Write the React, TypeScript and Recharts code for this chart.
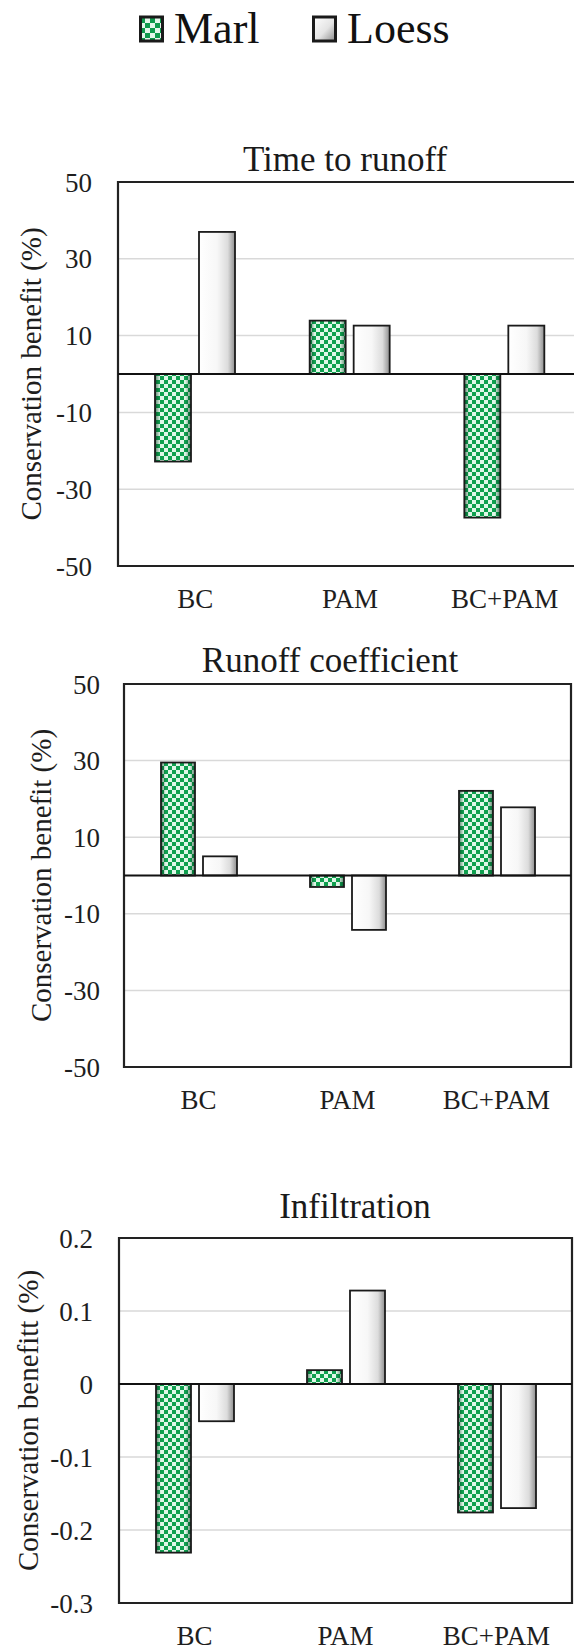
import React from 'react';
import {
  BarChart,
  Bar,
  XAxis,
  YAxis,
  CartesianGrid,
  ReferenceLine,
  ReferenceArea,
  Legend,
} from 'recharts';

const FONT = "'Liberation Serif', 'Times New Roman', Times, serif";
const TEXT_COLOR = '#1e1e1e';

// ---------- data ----------
const categories = ['BC', 'PAM', 'BC+PAM'];
const seriesNames = ['Marl', 'Loess'];

const timeToRunoffMarl = [-22.8, 13.9, -37.4];
const timeToRunoffLoess = [37.0, 12.6, 12.6];

const runoffCoefficientMarl = [29.5, -3.0, 22.1];
const runoffCoefficientLoess = [5.0, -14.2, 17.8];

const infiltrationMarl = [-0.231, 0.019, -0.176];
const infiltrationLoess = [-0.051, 0.128, -0.17];

const percentDomain = [-50, 50];
const percentTicks = [-50, -30, -10, 10, 30, 50];
const infiltrationDomain = [-0.3, 0.2];
const infiltrationTicks = [-0.3, -0.2, -0.1, 0, 0.1, 0.2];

const panelTitles = ['Time to runoff', 'Runoff coefficient', 'Infiltration'];
const yAxisTitles = [
  'Conservation benefit (%)',
  'Conservation benefit (%)',
  'Conservation benefitt (%)',
];

const buildRows = (marl: number[], loess: number[]) =>
  categories.map((category, i) => ({
    category,
    [seriesNames[0]]: marl[i],
    [seriesNames[1]]: loess[i],
  }));

const rowsTime = buildRows(timeToRunoffMarl, timeToRunoffLoess);
const rowsRunoff = buildRows(runoffCoefficientMarl, runoffCoefficientLoess);
const rowsInfil = buildRows(infiltrationMarl, infiltrationLoess);

// ---------- bar shapes ----------
const norm = (props: any) => {
  let { x, y, width, height } = props;
  if (height < 0) {
    y = y + height;
    height = -height;
  }
  if (width < 0) {
    x = x + width;
    width = -width;
  }
  return { x, y, width, height };
};

const makeMarlShape = (id: string) => (props: any) => {
  const { x, y, width, height } = norm(props);
  if (!height) return <g />;
  return (
    <g>
      <rect x={x} y={y} width={width} height={height} fill={`url(#checker-${id})`} />
      <rect x={x} y={y} width={width} height={height} fill={`url(#marlEdge-${id})`} />
      <rect x={x} y={y} width={width} height={height} fill="none" stroke="#1a1a1a" strokeWidth={1.8} />
    </g>
  );
};

const makeLoessShape = (id: string) => (props: any) => {
  const { x, y, width, height } = norm(props);
  if (!height) return <g />;
  return (
    <g>
      <rect x={x} y={y} width={width} height={height} fill={`url(#loessFill-${id})`} />
      <rect x={x} y={y} width={width} height={height} fill="none" stroke="#1a1a1a" strokeWidth={1.8} />
    </g>
  );
};

// ---------- legend ----------
const legendXs = [139, 312];
const renderLegend = (props: any) => {
  const payload: any[] = props.payload || [];
  const items = seriesNames.map((name) => payload.find((e) => e.value === name) || { value: name });
  return (
    <svg width={574} height={60} style={{ display: 'block' }}>
      <defs>
        <pattern id="legend-checker" patternUnits="userSpaceOnUse" width={10} height={10} x={140} y={18}>
          <rect width={10} height={10} fill="#e4f6ea" />
          <rect width={5} height={5} fill="#0e9a4c" />
          <rect x={5} y={5} width={5} height={5} fill="#0e9a4c" />
        </pattern>
        <linearGradient id="legend-loess" x1="0" y1="0" x2="1" y2="1">
          <stop offset="0" stopColor="#ffffff" />
          <stop offset="0.55" stopColor="#e4e4e4" />
          <stop offset="1" stopColor="#8a8a8a" />
        </linearGradient>
      </defs>
      {items.map((entry, i) => (
        <g key={entry.value}>
          <rect
            x={legendXs[i] + 1.5}
            y={17}
            width={22}
            height={24}
            fill={i === 0 ? 'url(#legend-checker)' : 'url(#legend-loess)'}
            stroke="#1a1a1a"
            strokeWidth={3}
          />
          <text
            x={legendXs[i] + 35}
            y={43}
            fontSize={44}
            fontFamily={FONT}
            style={{ fontFamily: FONT }}
            fill="#111"
          >
            {entry.value}
          </text>
        </g>
      ))}
    </svg>
  );
};

// ---------- panel ----------
type PanelProps = {
  id: string;
  rows: any[];
  domain: number[];
  ticks: number[];
  yTitle: string;
  yTitleX: number;
  top: number;
  width: number;
  height: number;
  margin: { top: number; right: number; bottom: number; left: number };
  yAxisWidth: number;
  yTickMargin: number;
  barSize: number;
  legend?: boolean;
};

const X_AXIS_HEIGHT = 40;
const tickStyle = { fontSize: 27, fill: TEXT_COLOR, fontFamily: FONT, style: { fontFamily: FONT } };

function Panel(p: PanelProps) {
  const plotTop = p.margin.top;
  const plotH = p.height - p.margin.top - p.margin.bottom - X_AXIS_HEIGHT;
  const centerYFallback = plotTop + plotH / 2;

  const yTitleContent = (lp: any) => {
    const vb = lp && lp.viewBox;
    const cy =
      vb && typeof vb.y === 'number' && typeof vb.height === 'number'
        ? vb.y + vb.height / 2
        : centerYFallback;
    return (
      <text
        x={p.yTitleX}
        y={cy}
        transform={`rotate(-90 ${p.yTitleX} ${cy})`}
        textAnchor="middle"
        dominantBaseline="central"
        fontSize={29}
        fontFamily={FONT}
        style={{ fontFamily: FONT }}
        fill={TEXT_COLOR}
      >
        {p.yTitle}
      </text>
    );
  };

  return (
    <div
      style={{
        position: 'absolute',
        left: 0,
        top: p.top,
        width: 574,
        height: p.height,
        overflow: 'hidden',
        fontFamily: FONT,
      }}
    >
      <BarChart
        width={p.width}
        height={p.height}
        data={p.rows}
        margin={p.margin}
        barSize={p.barSize}
        barGap={8}
        style={{ fontFamily: FONT }}
      >
        <defs>
          <pattern id={`checker-${p.id}`} patternUnits="userSpaceOnUse" width={8} height={8}>
            <rect width={8} height={8} fill="#e0f7e8" />
            <rect width={4} height={4} fill="#0fa04f" />
            <rect x={4} y={4} width={4} height={4} fill="#0fa04f" />
          </pattern>
          <linearGradient id={`marlEdge-${p.id}`} x1="0" y1="0" x2="1" y2="0">
            <stop offset="0" stopColor="#03361b" stopOpacity={0.6} />
            <stop offset="0.14" stopColor="#03361b" stopOpacity={0} />
            <stop offset="0.84" stopColor="#03361b" stopOpacity={0} />
            <stop offset="1" stopColor="#03361b" stopOpacity={0.6} />
          </linearGradient>
          <linearGradient id={`loessFill-${p.id}`} x1="0" y1="0" x2="1" y2="0">
            <stop offset="0" stopColor="#ffffff" />
            <stop offset="0.5" stopColor="#f7f7f7" />
            <stop offset="0.8" stopColor="#dcdcdc" />
            <stop offset="1" stopColor="#8e8e8e" />
          </linearGradient>
        </defs>
        <CartesianGrid vertical={false} stroke="#d9d9d9" strokeWidth={1.5} />
        <XAxis
          dataKey="category"
          height={X_AXIS_HEIGHT}
          tickLine={false}
          axisLine={false}
          tickSize={0}
          tickMargin={23}
          interval={0}
          tick={tickStyle}
        />
        <YAxis
          type="number"
          domain={p.domain}
          ticks={p.ticks}
          interval={0}
          allowDataOverflow
          width={p.yAxisWidth}
          tickLine={false}
          axisLine={false}
          tickSize={0}
          tickMargin={p.yTickMargin}
          tick={tickStyle}
          label={{ value: p.yTitle, content: yTitleContent }}
        />
        <ReferenceArea
          y1={p.domain[0]}
          y2={p.domain[1]}
          fill="none"
          fillOpacity={0}
          stroke="#222"
          strokeWidth={2.2}
          ifOverflow="visible"
        />
        <Bar
          dataKey={seriesNames[0]}
          name={seriesNames[0]}
          fill="#0fa04f"
          shape={makeMarlShape(p.id)}
          isAnimationActive={false}
        />
        <Bar
          dataKey={seriesNames[1]}
          name={seriesNames[1]}
          fill="#e0e0e0"
          shape={makeLoessShape(p.id)}
          isAnimationActive={false}
        />
        <ReferenceLine y={0} stroke="#111" strokeWidth={1.8} />
        {p.legend ? (
          <Legend
            layout="horizontal"
            verticalAlign="middle"
            align="center"
            wrapperStyle={{ position: 'absolute', top: 0, left: 0, width: 574, height: 60 }}
            content={renderLegend}
          />
        ) : null}
      </BarChart>
    </div>
  );
}

const titleSpecs = [
  { x: 345, y: 171 },
  { x: 330, y: 672 },
  { x: 355, y: 1218 },
];

export default function App() {
  return (
    <div
      style={{
        position: 'absolute',
        left: 0,
        top: 0,
        width: 574,
        height: 1650,
        overflow: 'hidden',
        background: '#ffffff',
        fontFamily: FONT,
      }}
    >
      <Panel
        id="p1"
        rows={rowsTime}
        domain={percentDomain}
        ticks={percentTicks}
        yTitle={yAxisTitles[0]}
        yTitleX={31}
        top={0}
        width={600}
        height={630}
        margin={{ top: 182, right: 18, bottom: 24, left: 0 }}
        yAxisWidth={118}
        yTickMargin={26}
        barSize={36}
        legend
      />
      <Panel
        id="p2"
        rows={rowsRunoff}
        domain={percentDomain}
        ticks={percentTicks}
        yTitle={yAxisTitles[1]}
        yTitleX={41}
        top={630}
        width={574}
        height={520}
        margin={{ top: 54, right: 3, bottom: 43, left: 0 }}
        yAxisWidth={124}
        yTickMargin={24}
        barSize={34}
      />
      <Panel
        id="p3"
        rows={rowsInfil}
        domain={infiltrationDomain}
        ticks={infiltrationTicks}
        yTitle={yAxisTitles[2]}
        yTitleX={28}
        top={1150}
        width={574}
        height={500}
        margin={{ top: 88, right: 2, bottom: 7, left: 0 }}
        yAxisWidth={119}
        yTickMargin={26}
        barSize={35}
      />
      <svg
        width={574}
        height={1650}
        style={{ position: 'absolute', left: 0, top: 0, pointerEvents: 'none' }}
      >
        {panelTitles.map((t, i) => (
          <text
            key={t}
            x={titleSpecs[i].x}
            y={titleSpecs[i].y}
            textAnchor="middle"
            fontSize={35}
            fontFamily={FONT}
            style={{ fontFamily: FONT }}
            fill="#1a1a1a"
          >
            {t}
          </text>
        ))}
      </svg>
    </div>
  );
}
